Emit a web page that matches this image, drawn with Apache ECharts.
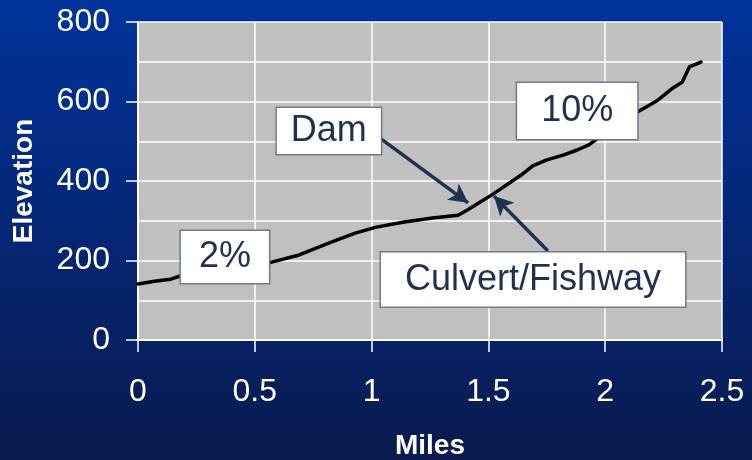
<!DOCTYPE html>
<html>
<head>
<meta charset="utf-8">
<script src="https://cdn.jsdelivr.net/npm/echarts@6/dist/echarts.min.js"></script>
<style>
  html, body { margin: 0; padding: 0; }
  #chart { width: 752px; height: 460px; }
</style>
</head>
<body>
<div id="chart"></div>
<script>
// Stream profile: distance along the channel (miles) and elevation
var miles = [0, 0.07, 0.14, 0.18, 0.56, 0.69, 0.83, 0.93, 1.02, 1.14, 1.26, 1.37, 1.41, 1.46,
             1.52, 1.64, 1.69, 1.75, 1.82, 1.88, 1.93, 1.97, 2.14, 2.22, 2.29, 2.33, 2.36, 2.41];
var elevation = [141, 148, 153, 161, 194, 214, 247, 269, 284, 297, 307, 314, 327, 345,
                 367, 415, 438, 453, 465, 478, 491, 508, 574, 601, 634, 649, 687, 699];

// Axis ranges and tick steps
var xTicks = [0, 0.5, 1, 1.5, 2, 2.5];
var yTicks = [0, 200, 400, 600, 800];

// Callout texts and where they sit (miles, elevation)
var calloutText = ['2%', 'Dam', '10%', 'Culvert/Fishway'];
var calloutMiles = [0.372, 0.817, 1.880, 1.691];
var calloutElev = [209, 526, 576, 152];

// Arrows: from (miles, elevation) to (miles, elevation)
var arrowFrom = [[1.036, 508], [1.755, 224]];
var arrowTo = [[1.413, 345], [1.524, 362]];

// Box padding per callout [vertical, horizontal]
var calloutPad = [[8, 18], [5, 14], [10, 24], [9, 24]];

var FONT = 'Liberation Sans, Arial, Helvetica, sans-serif';
var NAVY = '#1f3050';

var chart = echarts.init(document.getElementById('chart'), null, { renderer: 'canvas' });

var lineData = miles.map(function (m, i) { return [m, elevation[i]]; });

var calloutData = calloutText.map(function (t, i) {
  return {
    value: [calloutMiles[i], calloutElev[i]],
    name: t,
    label: { padding: calloutPad[i] }
  };
});

var arrowData = arrowFrom.map(function (f, i) {
  return [
    { coord: f, symbol: 'none' },
    { coord: arrowTo[i], symbol: 'arrow' }
  ];
});

chart.setOption({
  animation: false,
  backgroundColor: {
    type: 'linear', x: 0, y: 0, x2: 0, y2: 1,
    colorStops: [
      { offset: 0, color: '#00339c' },
      { offset: 1, color: '#0a1a4e' }
    ]
  },
  grid: {
    left: 138, right: 30, top: 22, bottom: 120,
    outerBoundsMode: 'none',
    containLabel: false,
    show: true, backgroundColor: '#c0c0c0', borderWidth: 0
  },
  xAxis: {
    type: 'value',
    min: xTicks[0], max: xTicks[xTicks.length - 1],
    interval: xTicks[1] - xTicks[0],
    name: 'Miles',
    nameLocation: 'middle',
    nameGap: 92,
    nameTextStyle: { color: '#ffffff', fontFamily: FONT, fontSize: 28, fontWeight: 'bold', lineHeight: 28 },
    axisLine: { show: true, onZero: false, lineStyle: { color: '#ffffff', width: 2 } },
    axisTick: { show: true, length: 12, lineStyle: { color: '#ffffff', width: 1.5 } },
    axisLabel: { color: '#ffffff', fontFamily: FONT, fontSize: 32, lineHeight: 32, margin: 36 },
    splitLine: { show: true, lineStyle: { color: '#ffffff', width: 1.5 } }
  },
  yAxis: {
    type: 'value',
    min: yTicks[0], max: yTicks[yTicks.length - 1],
    interval: yTicks[1] - yTicks[0],
    name: 'Elevation',
    nameLocation: 'middle',
    nameRotate: 90,
    nameGap: 100,
    nameTextStyle: { color: '#ffffff', fontFamily: FONT, fontSize: 28, fontWeight: 'bold', lineHeight: 28 },
    axisLine: { show: true, lineStyle: { color: '#ffffff', width: 2 } },
    axisTick: { show: true, length: 12, lineStyle: { color: '#ffffff', width: 1.5 } },
    axisLabel: { color: '#ffffff', fontFamily: FONT, fontSize: 32, lineHeight: 32, margin: 28 },
    splitLine: { show: true, lineStyle: { color: '#ffffff', width: 1.5 } },
    minorTick: { show: false, splitNumber: 2 },
    minorSplitLine: { show: true, lineStyle: { color: '#ffffff', width: 1.5 } }
  },
  series: [
    {
      name: 'Elevation',
      type: 'line',
      data: lineData,
      showSymbol: false,
      symbol: 'none',
      z: 3,
      lineStyle: { color: '#000000', width: 3.5, join: 'round', cap: 'round' },
      markLine: {
        silent: true,
        animation: false,
        z: 4,
        symbolSize: [15, 19],
        label: { show: false },
        lineStyle: { color: NAVY, width: 3.5, type: 'solid' },
        itemStyle: { color: NAVY },
        data: arrowData
      }
    },
    {
      name: 'Callouts',
      type: 'scatter',
      data: calloutData,
      symbolSize: 0,
      z: 10,
      silent: true,
      itemStyle: { opacity: 1 },
      emphasis: { disabled: true },
      label: {
        show: true,
        position: 'inside',
        formatter: '{b}',
        color: NAVY,
        fontFamily: FONT,
        fontSize: 36,
        lineHeight: 36,
        backgroundColor: '#ffffff',
        borderColor: '#6f7b8c',
        borderWidth: 1.5
      }
    }
  ]
});
</script>
</body>
</html>
